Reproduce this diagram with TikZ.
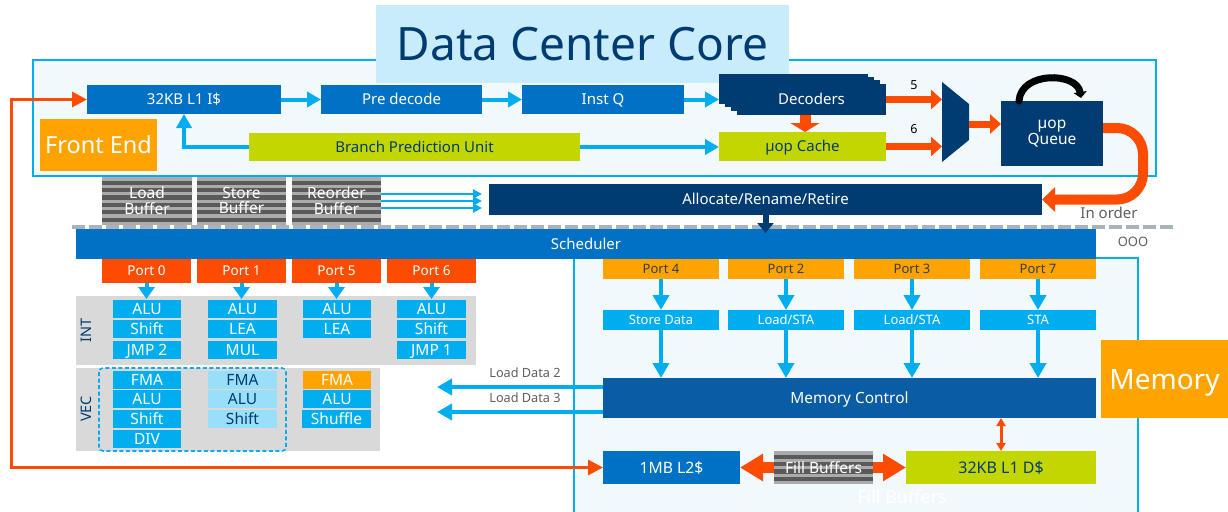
\documentclass[tikz,border=0pt]{standalone}
\usepackage{fontspec}
\setmainfont{Noto Sans}
\usetikzlibrary{arrows.meta,calc}
\definecolor{iblue}{HTML}{0071C5}
\definecolor{inavy}{HTML}{003C71}
\definecolor{icyan}{HTML}{00AEEF}
\definecolor{ilcyan}{HTML}{99DFF9}
\definecolor{ititle}{HTML}{C8ECFA}
\definecolor{ifill}{HTML}{F1F9FD}
\definecolor{ilime}{HTML}{C4D600}
\definecolor{iorange}{HTML}{FC4C02}
\definecolor{iamber}{HTML}{FFA300}
\definecolor{igray}{HTML}{D9D9D9}
\definecolor{imem}{HTML}{0A5CA5}
\definecolor{sdark}{HTML}{5A5A5A}
\definecolor{slight}{HTML}{ABABAB}
\definecolor{dashgray}{HTML}{A9B3BA}
\definecolor{txtgray}{HTML}{5F5F5F}
\definecolor{porttxt}{HTML}{333F48}
\newcommand{\fsz}[1]{\fontsize{#1}{#1}\selectfont}
\newcommand{\blk}[7]{\node[#1, minimum width={#5-#3}, minimum height={#6-#4}] (#2) at ({(#3+#5)/2},{(#4+#6)/2}) {#7};}
\tikzset{
  fs/.code={\pgfmathsetmacro\fsth{0.714*#1}\pgfkeysalso{font=\fsz{#1}, text height=\fsth pt, text depth=0pt}},
  box/.style={inner sep=0pt, outer sep=0pt},
  mbox/.style={inner sep=0pt, outer sep=0pt, align=center},
  bluebox/.style={box, fill=iblue, text=white, fs=15},
  navybox/.style={box, fill=inavy, text=white, fs=15},
  limebox/.style={box, fill=ilime, text=inavy, fs=15},
  titlebox/.style={box, fill=ititle, text=inavy, fs=46},
  labelbox/.style={box, fill=iamber, text=white},
  portR/.style={box, fill=iorange, text=white, fs=13.5},
  portA/.style={box, fill=iamber, text=porttxt, fs=13},
  memunit/.style={box, fill=icyan, text=white, fs=13},
  unit/.style={box, fill=icyan, text=white, fs=15.5},
  unitL/.style={box, fill=ilcyan, text=inavy, fs=15.5},
  unitO/.style={box, fill=iamber, text=white, fs=15.5},
  panel/.style={box, fill=igray},
  stripebox/.style={mbox, fill=sdark, text=white, font=\fsz{15.5},
    path picture={\foreach \k in {0,...,8}{\fill[slight] ($(path picture bounding box.north west)+(0,{\k*7.4+0.3})$) rectangle ++(200,3.3);}}},
  frame/.style={fill=ifill, draw=icyan, line width=1.5pt},
  dashline/.style={draw=dashgray, line width=4pt, dash pattern=on 13pt off 4pt},
  graytext/.style={text=txtgray, inner sep=0pt},
  fea/.style={draw=icyan, line width=4pt, -{Triangle[length=14pt,width=15pt]}},
  marrow/.style={draw=icyan, line width=4pt, -{Triangle[length=15pt,width=16pt]}},
  parrow/.style={draw=icyan, line width=4pt, shorten >=-3pt, -{Triangle[length=12pt,width=16pt]}},
  thinarrow/.style={draw=icyan, line width=2.2pt, shorten >=7pt, -{Triangle[length=9pt,width=9pt]}},
  oarrow/.style={draw=iorange, line width=7pt, -{Triangle[length=11pt,width=19pt]}},
  ofat/.style={draw=iorange, line width=11pt, -{Triangle[length=9pt,width=29pt]}},
  ofb/.style={draw=iorange, line width=11pt, -{Triangle[length=23pt,width=26pt]}},
  obig/.style={draw=iorange, line width=10pt, -{Triangle[length=13pt,width=24pt]}},
  oloop/.style={draw=iorange, line width=3pt, {Triangle[length=15pt,width=15pt]}-{Triangle[length=15pt,width=15pt]}},
  odbl/.style={draw=iorange, line width=3pt, {Triangle[length=8pt,width=9pt]}-{Triangle[length=8pt,width=9pt]}},
  navarrow/.style={draw=inavy, line width=6pt, shorten >=-4pt, -{Triangle[length=10pt,width=16pt]}},
}
\begin{document}
\begin{tikzpicture}[x=1pt,y=-1pt]
\useasboundingbox (0,0) rectangle (1228,511);
\fill[white] (0,0) rectangle (1228,511);
% frames
\draw[frame] (33,60) rectangle (1156,176);
\draw[frame] (574,258) rectangle (1138,520);
\blk{titlebox}{title}{376}{5}{789}{83}{Data Center Core}
\draw[dashline] (72,227) -- (1175,227);
% front end
\blk{labelbox, fs=23.5}{fe}{40}{119}{157}{171}{Front End}
\blk{bluebox}{l1i}{87}{85}{281}{114}{32KB L1 I\$}
\blk{bluebox}{pre}{321}{85}{482}{114}{Pre decode}
\blk{bluebox}{instq}{522}{85}{684}{114}{Inst Q}
\blk{navybox}{dec0}{719}{74}{868}{104}{}
\blk{navybox}{dec1}{725}{77}{874}{107}{}
\blk{navybox}{dec2}{731}{80}{880}{111}{}
\blk{navybox}{dec}{737}{84}{886}{115}{Decoders}
\blk{limebox}{bpu}{249}{133}{580}{161}{Branch Prediction Unit}
\blk{limebox}{ucache}{719}{132}{886}{161}{µop Cache}
\blk{box}{mux}{942}{82}{969}{162}{}
\fill[inavy] (942,82) -- (969,104) -- (969,140) -- (942,162) -- cycle;
\blk{mbox, fill=inavy, text=white, font=\fsz{15.5}}{uq}{1001}{101}{1103}{166}{µop\\[1pt]Queue}
% buffers
\blk{stripebox}{lb}{102}{177}{192}{224}{Load\\Buffer}
\blk{stripebox}{sb}{197}{177}{286}{224}{Store\\Buffer}
\blk{stripebox}{rob}{292}{177}{381}{224}{Reorder\\Buffer}
\blk{navybox}{alloc}{489}{184}{1042}{215}{Allocate/Rename/Retire}
\node[graytext, font=\fsz{15}] (inorder) at (1109,213) {In order};
\blk{bluebox}{sched}{76}{229}{1096}{259}{Scheduler}
\node[graytext, font=\fsz{13}] (ooo) at (1133,242) {OOO};
% ports
\blk{portR}{p0}{102}{259}{191}{283}{Port 0}
\blk{portR}{p1}{197}{259}{286}{283}{Port 1}
\blk{portR}{p5}{292}{259}{381}{283}{Port 5}
\blk{portR}{p6}{387}{259}{476}{283}{Port 6}
\blk{portA}{p4}{603}{259}{719}{279}{Port 4}
\blk{portA}{p2}{728}{259}{844}{279}{Port 2}
\blk{portA}{p3}{854}{259}{970}{279}{Port 3}
\blk{portA}{p7}{980}{259}{1096}{279}{Port 7}
% panels
\blk{panel}{intp}{76}{296}{476}{365}{}
\blk{panel}{vecp}{76}{368}{380}{451}{}
\node[text=inavy, font=\fsz{14.5}, rotate=90, inner sep=0pt] (intl) at (86,330) {INT};
\node[text=inavy, font=\fsz{14.5}, rotate=90, inner sep=0pt] (vecl) at (86,409) {VEC};
\draw[icyan, line width=1.6pt, dash pattern=on 4pt off 2.5pt, rounded corners=4pt] (99,368) rectangle (286,451);
% INT units
\blk{unit}{i0a}{113}{300}{181}{318}{ALU}
\blk{unit}{i0b}{113}{320}{181}{338}{Shift}
\blk{unit}{i0c}{113}{341}{181}{359}{JMP 2}
\blk{unit}{i1a}{208}{300}{277}{318}{ALU}
\blk{unit}{i1b}{208}{320}{277}{338}{LEA}
\blk{unit}{i1c}{208}{341}{277}{359}{MUL}
\blk{unit}{i5a}{303}{300}{371}{318}{ALU}
\blk{unit}{i5b}{303}{320}{371}{338}{LEA}
\blk{unit}{i6a}{397}{300}{466}{318}{ALU}
\blk{unit}{i6b}{397}{320}{466}{338}{Shift}
\blk{unit}{i6c}{397}{341}{466}{359}{JMP 1}
% VEC units
\blk{unit}{v0a}{113}{371}{181}{389}{FMA}
\blk{unit}{v0b}{113}{390}{181}{408}{ALU}
\blk{unit}{v0c}{113}{410}{181}{428}{Shift}
\blk{unit}{v0d}{113}{430}{181}{448}{DIV}
\blk{unitL}{v1a}{208}{371}{277}{389}{FMA}
\blk{unitL}{v1b}{208}{390}{277}{408}{ALU}
\blk{unitL}{v1c}{208}{410}{277}{428}{Shift}
\blk{unitO}{v5a}{303}{371}{371}{389}{FMA}
\blk{unit}{v5b}{303}{390}{371}{408}{ALU}
\blk{unit}{v5c}{302}{410}{371}{428}{Shuffle}
% memory units
\blk{memunit}{sd}{603}{310}{719}{330}{Store Data}
\blk{memunit}{ls2}{728}{310}{844}{330}{Load/STA}
\blk{memunit}{ls3}{854}{310}{970}{330}{Load/STA}
\blk{memunit}{sta}{980}{310}{1096}{330}{STA}
\blk{box, fill=imem, text=white, fs=15.4}{memctl}{603}{378}{1096}{418}{Memory Control}
\blk{bluebox, fs=15.7}{l2}{603}{451}{740}{484}{1MB L2\$}
\blk{stripebox}{fb}{774}{451}{873}{484}{Fill Buffers}
\blk{limebox, fs=16}{l1d}{906}{451}{1096}{484}{32KB L1 D\$}
\node[text=white, font=\fsz{18}, inner sep=0pt] (ghost) at (902,497) {Fill Buffers};
\blk{labelbox, fs=28}{meml}{1101}{340}{1228}{418}{Memory}
\coordinate (ld2) at (437,387);
\coordinate (ld3) at (437,412);
\node[graytext, font=\fsz{12.7}] (ld2t) at (525,373) {Load Data 2};
\node[graytext, font=\fsz{12.7}] (ld3t) at (525,398) {Load Data 3};
% front end arrows
\draw[fea] (l1i) -- (pre);
\draw[fea] (pre) -- (instq);
\draw[fea] (instq.east) -- (instq.east -| dec0.west);
\draw[fea] (bpu.west) -| (l1i.south);
\draw[fea] (bpu.east) -- (bpu.east -| ucache.west);
\draw[ofat] ([xshift=-6.5pt]dec.south) -- ([xshift=-6.5pt]dec.south |- ucache.north);
\draw[oarrow] (dec.east) -- (dec.east -| mux.west) node[midway, above=3pt, text=black, font=\fsz{12.5}] {5};
\draw[oarrow] (ucache.east) -- (ucache.east -| mux.west) node[midway, above=6pt, text=black, font=\fsz{12.5}] {6};
\draw[oarrow] ([yshift=-2pt]mux.east) -- ([yshift=-2pt]mux.east -| uq.west);
\draw[black, line width=7pt, line cap=round, -{Triangle[length=6pt,width=13pt]}] ([xshift=18pt]uq.north west) .. controls +(2,-30) and +(-4,-26) .. ([xshift=-22pt,yshift=3pt]uq.north east);
\draw[obig, rounded corners=26pt] ([yshift=5.5pt]uq.east) -- ++(40,0) |- (alloc.east);
% buffers to allocate
\draw[thinarrow] ([yshift=6.5pt]rob.east) -- ([yshift=6.5pt]rob.east -| alloc.west);
\draw[thinarrow] ([yshift=-0.5pt]rob.east) -- ([yshift=-0.5pt]rob.east -| alloc.west);
\draw[thinarrow] ([yshift=-7.5pt]rob.east) -- ([yshift=-7.5pt]rob.east -| alloc.west);
\draw[navarrow] (alloc.south) -- (alloc.south |- sched.north);
% port arrows
\draw[parrow] (p0.south) -- (p0.south |- intp.north);
\draw[parrow] (p1.south) -- (p1.south |- intp.north);
\draw[parrow] (p5.south) -- (p5.south |- intp.north);
\draw[parrow] (p6.south) -- (p6.south |- intp.north);
\draw[marrow] (p4) -- (sd);
\draw[marrow] (p2) -- (ls2);
\draw[marrow] (p3) -- (ls3);
\draw[marrow] (p7) -- (sta);
\draw[marrow] (sd.south) -- (sd.south |- memctl.north);
\draw[marrow] (ls2.south) -- (ls2.south |- memctl.north);
\draw[marrow] (ls3.south) -- (ls3.south |- memctl.north);
\draw[marrow] (sta.south) -- (sta.south |- memctl.north);
\draw[marrow] (memctl.west |- ld2) -- (ld2);
\draw[marrow] (memctl.west |- ld3) -- (ld3);
\draw[odbl] (l1d.north |- memctl.south) -- (l1d.north);
\draw[ofb] (fb.west) -- (l2.east);
\draw[ofb] (fb.east) -- (l1d.west);
\draw[oloop] (l2.west) -- ++(-592,0) |- (l1i.west);
\end{tikzpicture}
\end{document}
